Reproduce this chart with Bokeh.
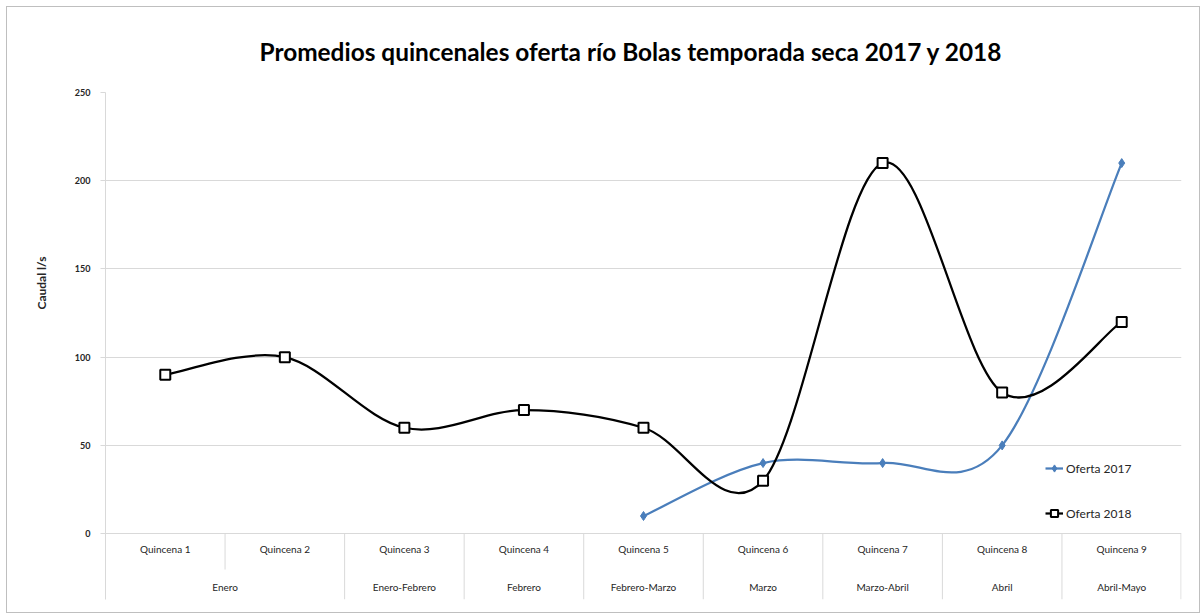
from bokeh.plotting import figure
from bokeh.models import ColumnDataSource, FixedTicker, Legend, LegendItem, Range1d, Title
from bokeh.core.properties import value
from bokeh.embed import file_html
from bokeh.resources import INLINE

# ---------------- data ----------------
quincenas = ["Quincena 1", "Quincena 2", "Quincena 3", "Quincena 4", "Quincena 5",
             "Quincena 6", "Quincena 7", "Quincena 8", "Quincena 9"]
meses = ["Enero", "Enero", "Enero-Febrero", "Febrero", "Febrero-Marzo",
         "Marzo", "Marzo-Abril", "Abril", "Abril-Mayo"]
oferta_2017 = [None, None, None, None, 10, 40, 40, 50, 210]
oferta_2018 = [90, 100, 60, 70, 60, 30, 210, 80, 120]
y_ticks = [0, 50, 100, 150, 200, 250]

FONT = "Lato"
BLUE = "#4a7ebb"
GRID = "#d9d9d9"
TXT = "#262626"

# ---------------- figure ----------------
Y_TOP = 250
PX_PLOT = 442.0                 # pixels from 0 to 250
U_PER_PX = Y_TOP / PX_PLOT
FRAME_H = 508
Y_BOTTOM = -(FRAME_H - PX_PLOT) * U_PER_PX
FIG_H = 607

p = figure(width=1194, height=FIG_H, output_backend="svg", toolbar_location=None,
           x_range=Range1d(0.5, len(quincenas) + 0.5), y_range=Range1d(Y_BOTTOM, Y_TOP),
           min_border_left=98, min_border_right=20, min_border_top=84, min_border_bottom=15,
           title="Promedios quincenales oferta río Bolas temporada seca 2017 y 2018")
p.styles = {"border": "1px solid #bfbfbf", "margin-left": "6px", "margin-top": "6px"}
p.outline_line_color = None
p.background_fill_color = "white"
p.border_fill_color = "white"

p.title.align = "left"
p.title.text_font = FONT
p.title.text_font_size = "24.4px"
p.title.text_font_style = "bold"
p.title.text_color = "#000000"
p.title.standoff = 54
p.title.offset = 154

p.xaxis.visible = False
p.xgrid.visible = False

yax = p.yaxis[0]
yax.ticker = FixedTicker(ticks=y_ticks)
yax.axis_line_color = GRID
yax.major_tick_line_color = GRID
yax.major_tick_out = 5
yax.major_tick_in = 0
yax.minor_tick_line_color = None
yax.major_label_text_font = FONT
yax.major_label_text_font_size = "9px"
yax.major_label_text_font_style = "bold"
yax.major_label_text_color = TXT
yax.major_label_standoff = 10

p.add_layout(Title(text="Caudal l/s", align="left", offset=290, standoff=46,
                   text_font=FONT, text_font_size="12px", text_font_style="bold",
                   text_color=TXT), "left")

p.ygrid.ticker = FixedTicker(ticks=y_ticks)
p.ygrid.grid_line_color = GRID
p.ygrid.grid_line_width = 1

# ---------------- category axis (two levels) ----------------
xs = list(range(1, len(quincenas) + 1))
p.text(x=xs, y=[0] * len(xs), text=quincenas, y_offset=15,
       text_align="center", text_baseline="middle",
       text_font=value(FONT), text_font_size="10px", text_color=TXT)

groups = []
for i, m in enumerate(meses):
    if groups and groups[-1][0] == m:
        groups[-1][2] = xs[i]
    else:
        groups.append([m, xs[i], xs[i]])
g_names = [g[0] for g in groups]
g_centers = [(g[1] + g[2]) / 2 for g in groups]
p.text(x=g_centers, y=[0] * len(g_centers), text=g_names, y_offset=53,
       text_align="center", text_baseline="middle",
       text_font=value(FONT), text_font_size="10px", text_color=TXT)

sep_x, sep_y1 = [], []
for i in range(1, len(xs) + 1):
    bx = i + 0.5
    inner = i < len(xs) and meses[i - 1] == meses[i]
    sep_x.append(bx if i < len(xs) else bx - 0.004)
    sep_y1.append(-36 * U_PER_PX if inner else Y_BOTTOM)
p.segment(x0=sep_x, y0=[0] * len(sep_x), x1=sep_x, y1=sep_y1,
          line_color=GRID, line_width=1)


# ---------------- smoothed lines ----------------
def smooth(xv, yv):
    n = len(xv)
    d = dict(x0=[], y0=[], x1=[], y1=[], cx0=[], cy0=[], cx1=[], cy1=[])
    for i in range(n - 1):
        xm, ym = (xv[i - 1], yv[i - 1]) if i > 0 else (xv[i], yv[i])
        xp, yp = (xv[i + 2], yv[i + 2]) if i + 2 < n else (xv[i + 1], yv[i + 1])
        d["x0"].append(xv[i]); d["y0"].append(yv[i])
        d["x1"].append(xv[i + 1]); d["y1"].append(yv[i + 1])
        d["cx0"].append(xv[i] + (xv[i + 1] - xm) / 6)
        d["cy0"].append(yv[i] + (yv[i + 1] - ym) / 6)
        d["cx1"].append(xv[i + 1] - (xp - xv[i]) / 6)
        d["cy1"].append(yv[i + 1] - (yp - yv[i]) / 6)
    return ColumnDataSource(d)


x17 = [x for x, v in zip(xs, oferta_2017) if v is not None]
y17 = [v for v in oferta_2017 if v is not None]
x18 = xs
y18 = oferta_2018

p.bezier(x0="x0", y0="y0", x1="x1", y1="y1", cx0="cx0", cy0="cy0", cx1="cx1", cy1="cy1",
         source=smooth(x17, y17), line_color=BLUE, line_width=2.25)
p.bezier(x0="x0", y0="y0", x1="x1", y1="y1", cx0="cx0", cy0="cy0", cx1="cx1", cy1="cy1",
         source=smooth(x18, y18), line_color="#000000", line_width=2.25)

m17 = p.scatter(x=x17, y=y17, marker="diamond", size=9, fill_color=BLUE, line_color=BLUE)
m18 = p.scatter(x=x18, y=y18, marker="square", size=10, fill_color="white",
                line_color="#000000", line_width=2)

# legend-only line renderers (hidden in the plot)
l17 = p.line(x=x17, y=y17, line_color=BLUE, line_width=2.25, visible=False)
l18 = p.line(x=x18, y=y18, line_color="#000000", line_width=2.25, visible=False)

legend = Legend(items=[LegendItem(label="Oferta 2017", renderers=[l17, m17]),
                       LegendItem(label="Oferta 2018", renderers=[l18, m18])],
                location=(940, 76), padding=0, margin=0, spacing=25,
                glyph_width=18, glyph_height=20, label_standoff=3,
                background_fill_alpha=0, border_line_color=None,
                label_text_font=FONT, label_text_font_size="12px",
                label_text_color=TXT)
p.add_layout(legend)

open("out.html", "w").write(file_html(p, INLINE))
